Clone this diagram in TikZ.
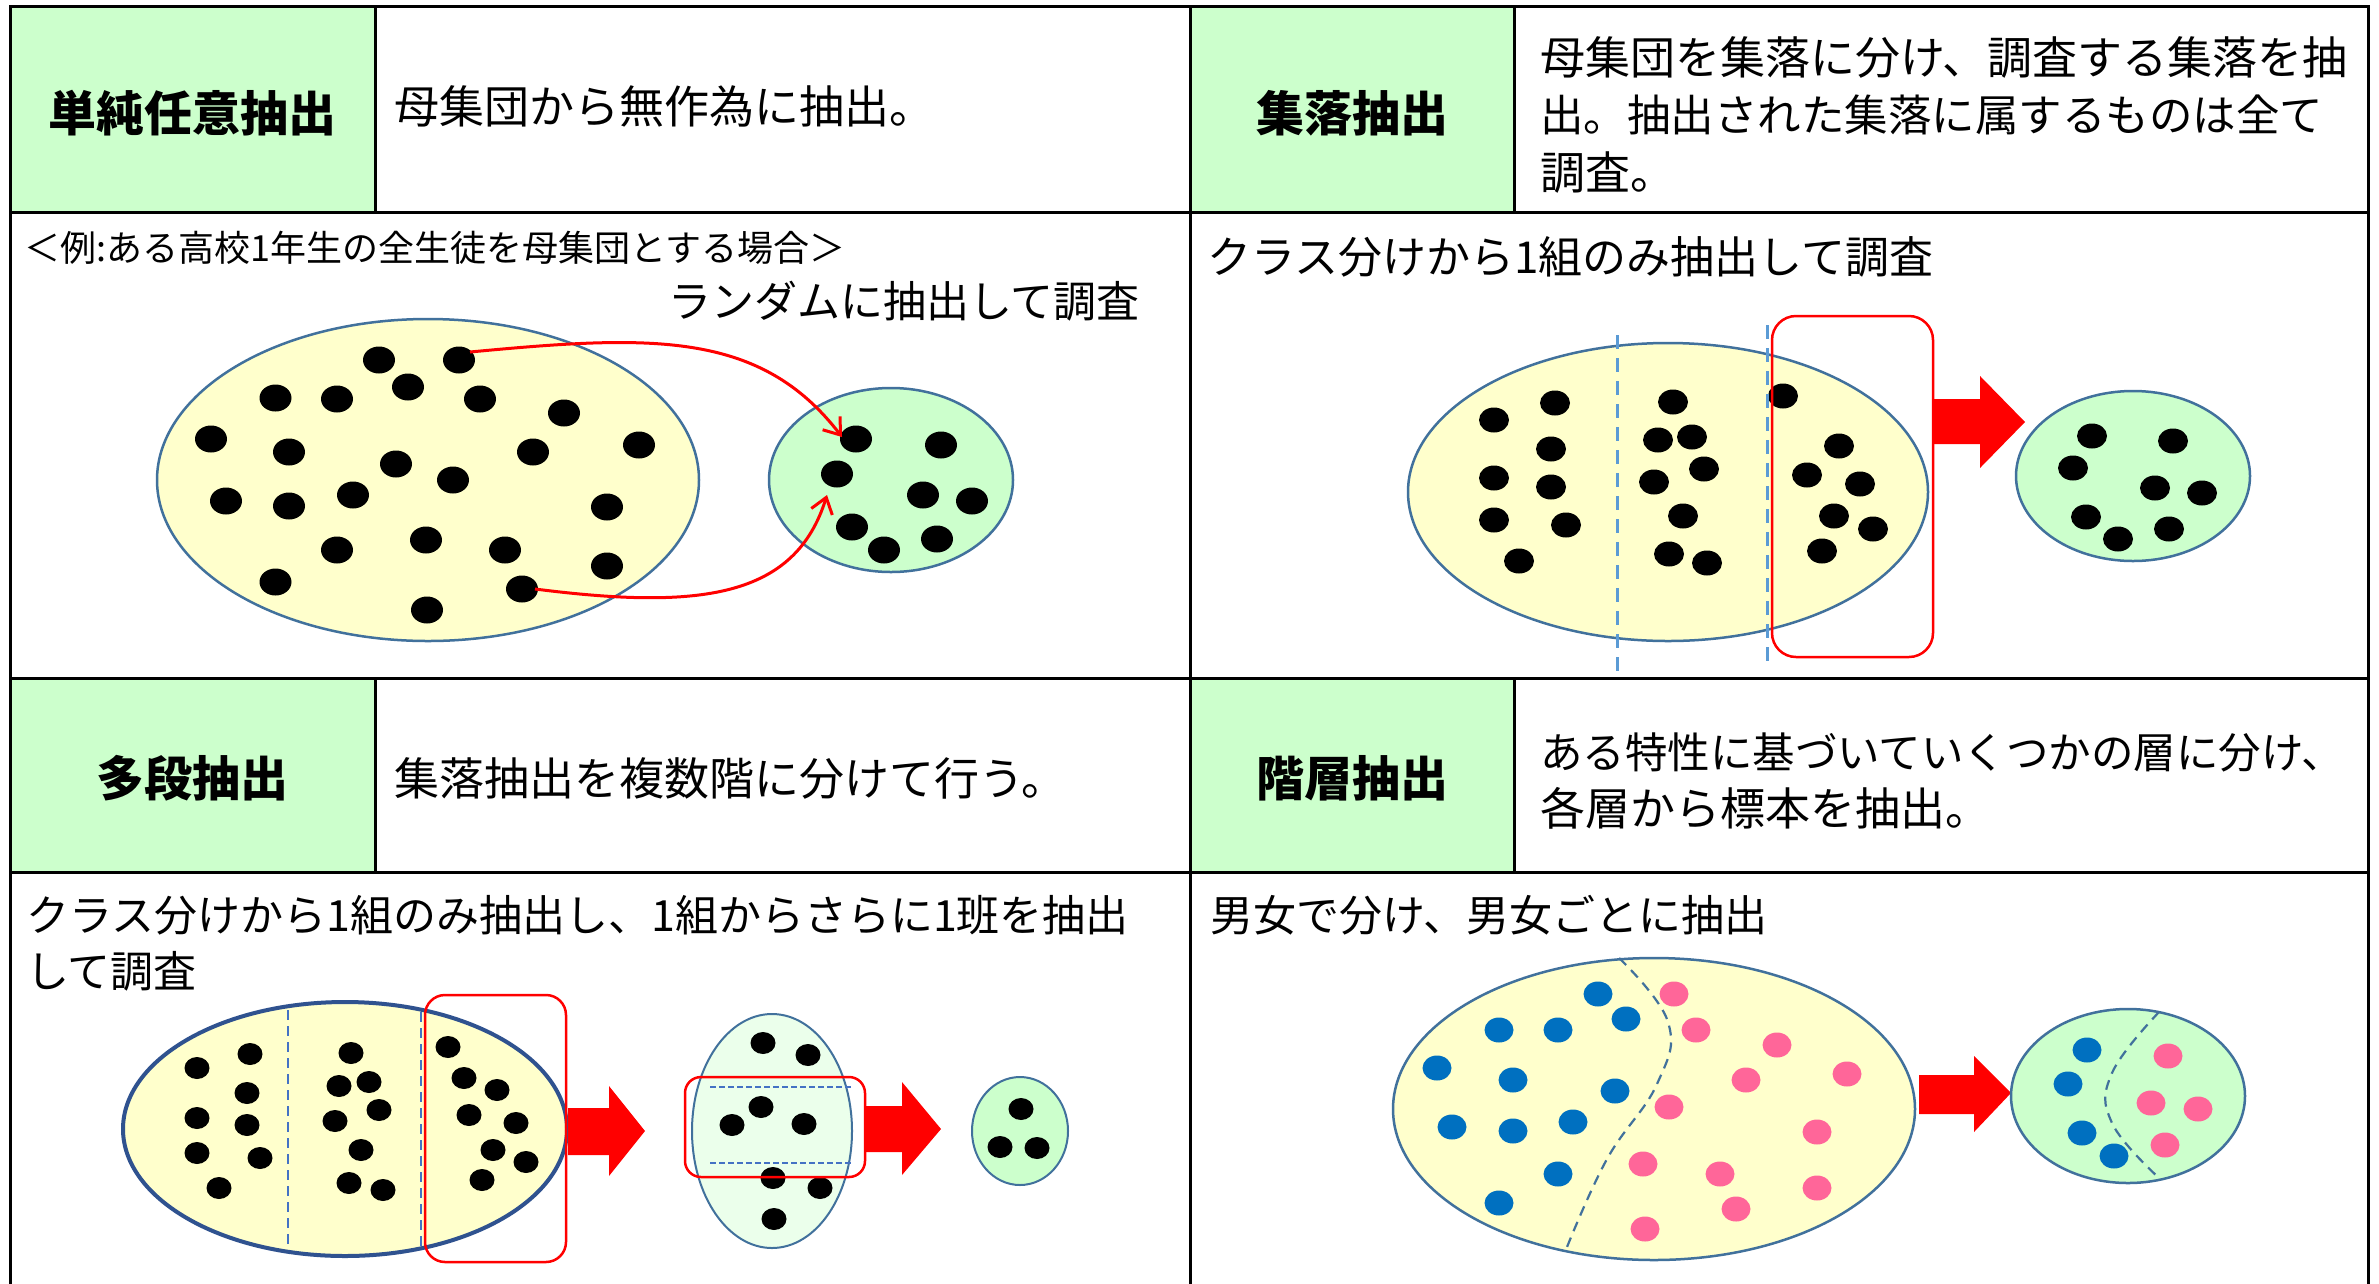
\documentclass[tikz,border=0pt]{standalone}
\usepackage{fontspec}
\setmainfont{Noto Sans CJK JP}
\usetikzlibrary{arrows.meta}
\definecolor{lblgreen}{HTML}{CCFFCC}
\definecolor{popyellow}{HTML}{FFFFCC}
\definecolor{paleg}{HTML}{EBFFEB}
\definecolor{ellb}{RGB}{65,113,156}
\definecolor{ellbd}{RGB}{47,82,143}
\definecolor{dashb}{HTML}{5B9BD5}
\definecolor{dashc}{RGB}{68,114,196}
\definecolor{boyblue}{HTML}{0070C0}
\definecolor{girlpink}{RGB}{255,102,153}
\begin{document}
\begin{tikzpicture}[x=1pt,y=-1pt,
  tablerule/.style={line width=3pt, black, line cap=rect},
  lbl/.style={inner sep=0pt, anchor=base, font=\fontsize{48}{56}\selectfont\bfseries},
  desc/.style={inner sep=0pt, anchor=base west, font=\fontsize{45}{58}\selectfont},
  cont/.style={inner sep=0pt, anchor=base west, font=\fontsize{43}{56}\selectfont},
  smalltxt/.style={inner sep=0pt, anchor=base west, font=\fontsize{36}{42}\selectfont},
  popu/.style={fill=popyellow, draw=ellb, line width=2.5pt},
  samp/.style={fill=lblgreen, draw=ellb, line width=2.5pt},
  pick/.style={draw=red, line width=2.5pt, rounded corners=24pt},
  blockarr/.style={fill=red},
  clsdash/.style={draw=dashb, line width=3pt, dash pattern=on 14pt off 9pt},
  subdash/.style={draw=dashc, line width=2.5pt, dash pattern=on 10pt off 6pt},
  hdash/.style={draw=dashc, line width=2.5pt, dash pattern=on 6pt off 3pt},
  sexdash/.style={draw=ellb, line width=2.2pt, dash pattern=on 10pt off 7pt},
  randarr/.style={draw=red, line width=3pt, -{Straight Barb[length=15pt, width=22pt]}},
]
\useasboundingbox (0,0) rectangle (2379,1283);
\fill[white] (0,0) rectangle (2379,1283);

% ---------- table ----------
\fill[lblgreen] (10,6) rectangle (375,212);
\fill[lblgreen] (1190,6) rectangle (1514,212);
\fill[lblgreen] (10,678) rectangle (375,872);
\fill[lblgreen] (1190,678) rectangle (1514,872);
\draw[tablerule] (10,6) -- (2368,6);
\draw[tablerule] (10,212) -- (2368,212);
\draw[tablerule] (10,678) -- (2368,678);
\draw[tablerule] (10,872) -- (2368,872);
\draw[tablerule] (10,6) -- (10,1290);
\draw[tablerule] (1190,6) -- (1190,1290);
\draw[tablerule] (2368,6) -- (2368,1290);
\draw[tablerule] (375,6) -- (375,212);
\draw[tablerule] (1514,6) -- (1514,212);
\draw[tablerule] (375,678) -- (375,872);
\draw[tablerule] (1514,678) -- (1514,872);

% ---------- header texts ----------
\node[lbl] (h1) at (192,131) {単純任意抽出};
\node[desc] (d1) at (394,123.5) {母集団から無作為に抽出。};
\node[lbl] (h2) at (1352,131) {集落抽出};
\node[desc] (d2a) at (1540,74.5) {母集団を集落に分け、調査する集落を抽};
\node[desc, font=\fontsize{43.5}{58}\selectfont] (d2b) at (1540,131.5) {出。抽出された集落に属するものは全て};
\node[desc] (d2c) at (1540,189) {調査。};
\node[lbl] (h3) at (192,796) {多段抽出};
\node[desc] (d3) at (394,795) {集落抽出を複数階に分けて行う。};
\node[lbl] (h4) at (1352,796) {階層抽出};
\node[desc, font=\fontsize{42.5}{58}\selectfont] (d4a) at (1540,768) {ある特性に基づいていくつかの層に分け、};
\node[desc] (d4b) at (1540,825) {各層から標本を抽出。};

% ---------- panel 1: simple random ----------
\node[smalltxt] (ex) at (24,261) {＜例:ある高校1年生の全生徒を母集団とする場合＞};
\node[cont] (t1) at (668,317) {ランダムに抽出して調査};
\draw[popu] (428,480) ellipse [x radius=271, y radius=161];
\draw[samp] (891,480) ellipse [x radius=122, y radius=92];
\foreach \x/\y in {379/360,459/360,408/387,275.5/398,337/399,480/399,564/413,211/439,289/452,639/445,533/452,396/464,453/480,226/501,289/506,353/495,607/507,426/540,337/550,505/550,607/566,275.5/582,522/589,427/610,
  856/439,941/445,837/474,923/495,972/501,852/527,937/539,884/550}
  \fill[black] (\x,\y) ellipse [x radius=16, y radius=13.5];
\coordinate (r1s) at (470,352);
\coordinate (r1e) at (842,437);
\coordinate (r2s) at (535,589);
\coordinate (r2e) at (827,495);
\draw[randarr] (r1s) .. controls (650,335) and (760,330) .. (r1e);
\draw[randarr] (r2s) .. controls (700,610) and (795,598) .. (r2e);

% ---------- panel 2: cluster ----------
\node[cont, font=\fontsize{44}{56}\selectfont] (t2) at (1207,273) {クラス分けから1組のみ抽出して調査};
\draw[popu] (1668,492) ellipse [x radius=260, y radius=149];
\foreach \x/\y in {1494/420,1555/403,1551/449,1494/478,1551/487,1494/520,1566/525,1519/561,1673/402,1658/440,1692/437,1704/469,1654/482,1683/516,1669/554,1707/563,1783/396,1839/446,1807/475,1860/484,1834/516,1873/529,1822/551}
  \fill[black] (\x,\y) ellipse [x radius=15, y radius=12.5];
\draw[clsdash] (1617,335) -- (1617,672);
\draw[clsdash] (1767,325) -- (1767,662);
\draw[pick] (1772,316) rectangle (1933,657);
\fill[blockarr] (1933,399) -- (1980,399) -- (1980,376) -- (2025,422) -- (1980,468) -- (1980,444) -- (1933,444) -- cycle;
\draw[samp] (2133,476) ellipse [x radius=117, y radius=85];
\foreach \x/\y in {2092/436,2173/441,2073/468,2155/488,2202/493,2086/517,2169/529,2118/539}
  \fill[black] (\x,\y) ellipse [x radius=15, y radius=12.5];

% ---------- panel 3: multistage ----------
\node[cont] (t3a) at (26,931) {クラス分けから1組のみ抽出し、1組からさらに1班を抽出};
\node[cont] (t3b) at (26,987) {して調査};
\draw[fill=popyellow, draw=ellbd, line width=4pt] (345,1129) ellipse [x radius=222, y radius=127];
\foreach \x/\y in {197/1068,250/1054,247/1093,197/1118,247/1125,197/1153,260/1158,219/1188,351/1053,339/1086,369/1082,379/1110,335/1121,361/1150,349/1183,383/1190,448/1047,464/1078,497/1090,469/1115,516/1123,493/1150,526/1162,482/1180}
  \fill[black] (\x,\y) ellipse [x radius=12.5, y radius=11];
\draw[subdash] (288,1010) -- (288,1249);
\draw[subdash] (421,1012) -- (421,1249);
\draw[pick, rounded corners=20pt] (425,995) rectangle (566,1262);
\fill[blockarr] (568,1108) -- (609,1108) -- (609,1086) -- (645,1131) -- (609,1176) -- (609,1155) -- (568,1155) -- cycle;
\draw[fill=paleg, draw=ellb, line width=2pt] (772,1131) ellipse [x radius=80, y radius=117];
\foreach \x/\y in {763/1043,808/1055,761/1107,732/1125,804/1124,773/1178,820/1188,774/1219}
  \fill[black] (\x,\y) ellipse [x radius=12.5, y radius=11];
\draw[hdash] (710,1087) -- (852,1087);
\draw[hdash] (710,1163) -- (852,1163);
\draw[pick, rounded corners=16pt] (685,1077) rectangle (865,1177);
\fill[blockarr] (865,1106) -- (902,1106) -- (902,1082) -- (941,1129) -- (902,1175) -- (902,1152) -- (865,1152) -- cycle;
\draw[samp, line width=2pt] (1020,1131) ellipse [x radius=48, y radius=54];
\foreach \x/\y in {1021/1109,1000/1147,1037/1148}
  \fill[black] (\x,\y) ellipse [x radius=12.5, y radius=11];

% ---------- panel 4: stratified ----------
\node[cont] (t4) at (1210,931) {男女で分け、男女ごとに抽出};
\draw[popu] (1654,1109) ellipse [x radius=261, y radius=151];
\draw[sexdash] plot[smooth, tension=0.7] coordinates {(1619,958) (1668,1022) (1657,1084) (1607,1159) (1567,1247)};
\foreach \x/\y in {1598/994,1626/1019,1499/1030,1558/1030,1437/1068,1513/1080,1615/1091,1452/1127,1513/1131,1573/1122,1558/1174,1499/1203}
  \fill[boyblue] (\x,\y) ellipse [x radius=14.5, y radius=12.5];
\foreach \x/\y in {1674/994,1696/1030,1777/1045,1746/1080,1847/1074,1669/1107,1817/1132,1643/1164,1720/1174,1817/1188,1736/1209,1645/1229}
  \fill[girlpink] (\x,\y) ellipse [x radius=14.5, y radius=12.5];
\fill[blockarr] (1919,1075) -- (1974,1075) -- (1974,1056) -- (2011,1093) -- (1974,1132) -- (1974,1114) -- (1919,1114) -- cycle;
\draw[samp] (2128,1096) ellipse [x radius=117, y radius=87];
\draw[sexdash] plot[smooth, tension=0.7] coordinates {(2159,1012) (2112,1073) (2112,1123) (2159,1178)};
\foreach \x/\y in {2087/1050,2068/1084,2082/1133,2114/1156}
  \fill[boyblue] (\x,\y) ellipse [x radius=14.5, y radius=12.5];
\foreach \x/\y in {2168/1056,2151/1103,2198/1109,2165/1145}
  \fill[girlpink] (\x,\y) ellipse [x radius=14.5, y radius=12.5];
\end{tikzpicture}
\end{document}
